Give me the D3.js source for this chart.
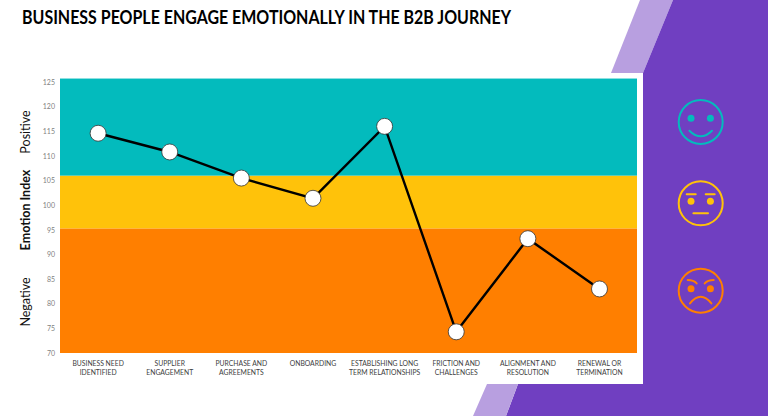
<!DOCTYPE html>
<html><head><meta charset="utf-8">
<script src="https://cdn.jsdelivr.net/npm/d3@7/dist/d3.min.js"></script>
<style>html,body{margin:0;padding:0;background:#fff}svg{display:block}text{font-family:Lato,"Open Sans",sans-serif}</style>
</head><body><svg id="c" width="768" height="416"></svg>
<script>
const title = "BUSINESS PEOPLE ENGAGE EMOTIONALLY IN THE B2B JOURNEY";
const categories = [["BUSINESS NEED","IDENTIFIED"],["SUPPLIER","ENGAGEMENT"],["PURCHASE AND","AGREEMENTS"],["ONBOARDING"],["ESTABLISHING LONG","TERM RELATIONSHIPS"],["FRICTION AND","CHALLENGES"],["ALIGNMENT AND","RESOLUTION"],["RENEWAL OR","TERMINATION"]];
const values = [114.6,110.8,105.5,101.4,116,74.3,93.2,83];
const tickValues = [70,75,80,85,90,95,100,105,110,115,120,125];
const bandFrom = [95.25,106,70];
const bandTo = [106,125.7,95.25];
const bandColors = ["#FFC20A","#03BBBD","#FF7F00"];
const sideLabels = [["Positive",132,false],["Emotion Index",210,true],["Negative",302,false]];
const faces = ["happy","neutral","angry"];
const faceColors = ["#03BBBD","#FFC20A","#FF7F00"];

const svg = d3.select("#c");
const x = d3.scaleBand().domain(d3.range(categories.length)).range([62.3,635.3]);
const y = d3.scaleLinear().domain([70,125]).range([353,82]);
const line = d3.line().x((d,i)=>x(i)+x.bandwidth()/2).y(d=>y(d));

// background
svg.append("path").attr("d","M640,0L673,0L643,73L611,73Z").attr("fill","#B89FE0");
svg.append("path").attr("d","M673,0L768,0L768,416L506,416L518,384L643,384L643,73Z").attr("fill","#703FC1");
svg.append("path").attr("d","M487,384L518,384L506,416L473,416Z").attr("fill","#B89FE0");

svg.append("text").text(title).attr("x",22).attr("y",23.5).attr("font-size",18.5).attr("font-weight",700).attr("fill","#000").attr("textLength",489).attr("lengthAdjust","spacingAndGlyphs");

// bands
svg.selectAll("rect.b").data(bandFrom).join("rect").attr("class","b")
  .attr("x",60).attr("width",577)
  .attr("y",(d,i)=>y(bandTo[i])).attr("height",(d,i)=>y(d)-y(bandTo[i]))
  .attr("fill",(d,i)=>bandColors[i]);

// axes
const ya = svg.append("g").attr("transform","translate(55,0)").call(d3.axisLeft(y).tickValues(tickValues).tickSize(0).tickPadding(0));
ya.select(".domain").remove();
ya.selectAll("text").attr("font-size",7).attr("fill","#7f7f7f").style("font-family","Lato");

const xa = svg.append("g").attr("transform","translate(0,353)").call(d3.axisBottom(x).tickSize(0).tickFormat(""));
xa.select(".domain").remove();
xa.selectAll(".tick").each(function(d){
  const t = d3.select(this).select("text").attr("fill","#404040").attr("font-size",6.8).attr("y",0).attr("dy",0);
  t.text(null);
  categories[d].forEach((s,j)=>t.append("tspan").attr("x",0).attr("y",13+j*9.2).text(s));
});

// side labels
svg.selectAll("text.s").data(sideLabels).join("text").attr("class","s")
  .attr("transform",d=>`translate(30,${d[1]}) rotate(-90)`)
  .attr("text-anchor","middle").attr("font-size",12.5)
  .attr("font-weight",d=>d[2]?700:400).attr("fill","#111").text(d=>d[0]);

// line + markers
svg.append("path").datum(values).attr("d",line).attr("fill","none").attr("stroke","#000").attr("stroke-width",2.4);
svg.selectAll("circle.p").data(values).join("circle").attr("class","p")
  .attr("cx",(d,i)=>x(i)+x.bandwidth()/2).attr("cy",d=>y(d)).attr("r",8)
  .attr("fill","#fff").attr("stroke","#333").attr("stroke-width",0.8);

// faces
const cy = [122,203.3,290.7];
faces.forEach((f,i)=>{
  const c = faceColors[i];
  const g = svg.append("g").attr("transform",`translate(700.7,${cy[i]})`).attr("fill","none").attr("stroke",c).attr("stroke-width",2).attr("stroke-linecap","round");
  g.append("circle").attr("r",22);
  [-9.7,9.7].forEach(dx=>g.append("circle").attr("cx",dx).attr("cy",f==="happy"?-3.7:-2).attr("r",3.5).attr("fill",c).attr("stroke","none"));
  if(f==="happy") g.append("path").attr("d","M-11.3,8.7Q0,20 11.3,8.7");
  if(f==="neutral") g.append("path").attr("d","M-14,-9H-5M5,-9H14M-7.3,10H7.3");
  if(f==="angry") g.append("path").attr("d","M-13,-10.7Q-7,-10.7 -4,-7.3M13,-10.7Q7,-10.7 4,-7.3M-10.7,12.7Q0,-0.5 10.7,12.7");
});
</script></body></html>
